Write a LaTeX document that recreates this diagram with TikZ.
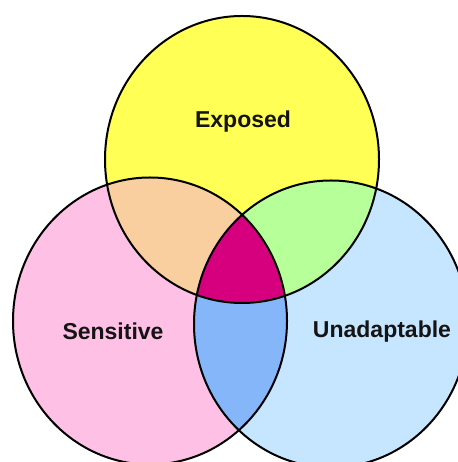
\documentclass[tikz,border=0pt]{standalone}
\usepackage{fontspec}
\setmainfont{Liberation Sans}
\usetikzlibrary{positioning}
\definecolor{exposedfill}{RGB}{255,255,85}
\definecolor{sensitivefill}{RGB}{255,192,230}
\definecolor{unadaptfill}{RGB}{198,230,255}
\definecolor{exsefill}{RGB}{250,207,160}
\definecolor{exunfill}{RGB}{182,255,153}
\definecolor{seunfill}{RGB}{134,182,250}
\definecolor{allfill}{RGB}{214,0,127}

\begin{document}
\begin{tikzpicture}[x=1pt, y=1pt, x radius=137pt, y radius=143.5pt,
    ring/.style={draw=black, line width=2pt},
    setname/.style={font=\fontsize{23}{26}\selectfont\bfseries, text=black!92}]
    \useasboundingbox (0,0) rectangle (457,462);

    \coordinate (exposedc) at (242,302.5);
    \coordinate (sensitivec) at (150,141);
    \coordinate (unadaptc) at (331,138);

    % plain circles
    \fill[exposedfill] (exposedc) ellipse;
    \fill[sensitivefill] (sensitivec) ellipse;
    \fill[unadaptfill] (unadaptc) ellipse;

    % overlaps
    \begin{scope}
        \clip (exposedc) ellipse;
        \fill[exsefill] (sensitivec) ellipse;
        \fill[exunfill] (unadaptc) ellipse;
    \end{scope}
    \begin{scope}
        \clip (sensitivec) ellipse;
        \fill[seunfill] (unadaptc) ellipse;
        \clip (exposedc) ellipse;
        \fill[allfill] (unadaptc) ellipse;
    \end{scope}

    \draw[ring] (exposedc) ellipse;
    \draw[ring] (sensitivec) ellipse;
    \draw[ring] (unadaptc) ellipse;

    \node[setname] (exposed) at (243,340) {Exposed};
    \node[setname] (sensitive) at (113,131) {Sensitive};
    \node[setname] (unadapt) at (382,130) {Unadaptable};
\end{tikzpicture}
\end{document}
